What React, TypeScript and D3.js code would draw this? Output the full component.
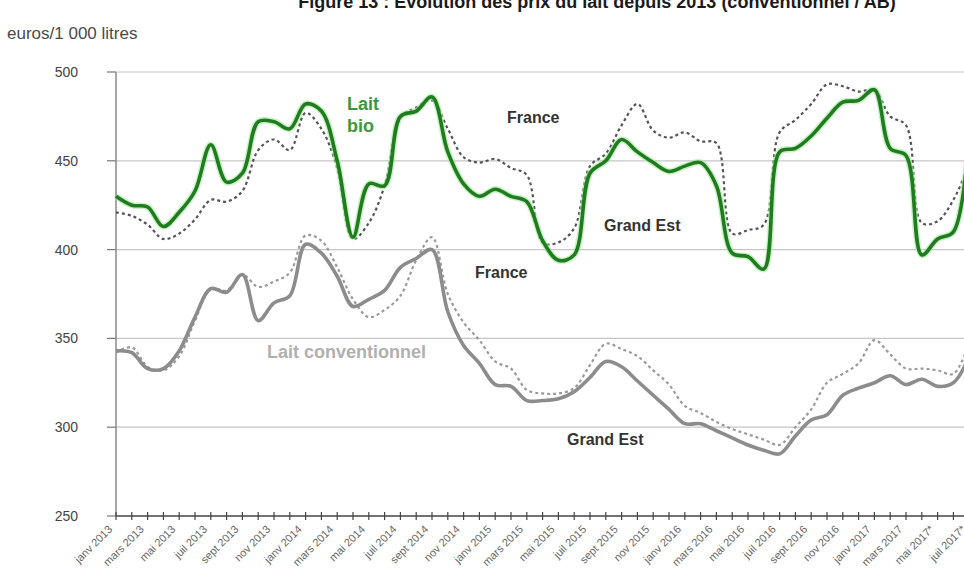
import React from "react";
import * as d3 from "d3";

const tickLabels = [
  "janv 2013", "mars 2013", "mai 2013", "juil 2013", "sept 2013", "nov 2013",
  "janv 2014", "mars 2014", "mai 2014", "juil 2014", "sept 2014", "nov 2014",
  "janv 2015", "mars 2015", "mai 2015", "juil 2015", "sept 2015", "nov 2015",
  "janv 2016", "mars 2016", "mai 2016", "juil 2016", "sept 2016", "nov 2016",
  "janv 2017", "mars 2017", "mai 2017*", "juil 2017*",
];

const yTicks = [250, 300, 350, 400, 450, 500];

// Monthly prices, janv 2013 .. juil 2017 (euros / 1 000 litres)
const bioGrandEst = [
  430, 425, 424, 413, 421, 433, 459, 438, 443, 472, 472, 468,
  482, 478, 450, 407, 437, 436, 475, 478, 486, 455, 437, 430,
  434, 430, 427, 405, 394, 397, 443, 450, 462, 455, 449, 444,
  447, 449, 436, 398, 396, 389, 455, 457, 464, 474, 483, 484,
  490, 457, 453, 397, 406, 410, 465,
];
const bioFrance = [
  421, 419, 414, 406, 409, 417, 428, 427, 433, 456, 462, 456,
  477, 468, 446, 406, 415, 436, 474, 480, 484, 468, 452, 449,
  451, 446, 442, 404, 404, 412, 447, 454, 470, 482, 467, 463,
  466, 461, 460, 409, 411, 414, 466, 473, 482, 493, 492, 489,
  490, 475, 470, 415, 416, 428, 448,
];
const convGrandEst = [
  343, 342, 333, 333, 343, 362, 378, 376, 386, 360, 370, 374,
  403, 398, 385, 368, 372, 377, 390, 395, 400, 365, 346, 336,
  324, 323, 315, 315, 316, 320, 328, 337, 334, 326, 318, 310,
  302, 302, 298, 294, 290, 287, 285, 295, 304, 307, 318, 322,
  325, 329, 324, 327, 323, 325, 340,
];
const convFrance = [
  342, 345, 334, 332, 340, 360, 378, 377, 386, 379, 382, 387,
  408, 405, 390, 372, 362, 366, 374, 394, 407, 375, 359, 349,
  337, 333, 321, 319, 319, 322, 335, 347, 344, 340, 332, 324,
  312, 308, 303, 299, 296, 293, 290, 300, 310, 325, 330, 336,
  349, 341, 333, 333, 332, 330, 348,
];

const W = 964;
const H = 573;
const X0 = 116;
const STEP = 15.8;
const N = bioGrandEst.length;
const font = "Arial, 'Liberation Sans', sans-serif";

export default function App() {
  const x = d3.scaleLinear().domain([0, N - 1]).range([X0, X0 + (N - 1) * STEP]);
  const y = d3.scaleLinear().domain([250, 500]).range([516, 72]);
  const line = d3
    .line<number>()
    .x((_, i) => x(i))
    .y((d) => y(d))
    .curve(d3.curveCatmullRom.alpha(0.5));

  const axisY = y(250);

  return (
    <svg
      width={W}
      height={H}
      style={{ position: "absolute", left: 0, top: 0, background: "#fff" }}
      fontFamily={font}
    >
      <rect x={0} y={0} width={W} height={H} fill="#fff" />
      {/* title (cut at top) */}
      <text x={597} y={8} textAnchor="middle" fontSize={18} fontWeight="bold" fill="#1a1a1a">
        Figure 13 : Évolution des prix du lait depuis 2013 (conventionnel / AB)
      </text>
      <text x={7} y={39} fontSize={17} fill="#4a4a4a">
        euros/1 000 litres
      </text>

      {/* gridlines + y ticks */}
      {yTicks.map((t) => (
        <g key={t}>
          {t !== 250 && (
            <line x1={X0} x2={W} y1={y(t)} y2={y(t)} stroke="#c6c6c6" strokeWidth={1.2} />
          )}
          <line x1={X0 - 9} x2={X0} y1={y(t)} y2={y(t)} stroke="#777" strokeWidth={1.2} />
          <text x={78} y={y(t) + 5} textAnchor="end" fontSize={14} fill="#444">
            {t}
          </text>
        </g>
      ))}
      <line x1={X0} x2={X0} y1={y(500)} y2={axisY} stroke="#888" strokeWidth={1.5} />

      {/* x axis */}
      <line x1={X0} x2={W} y1={axisY} y2={axisY} stroke="#444" strokeWidth={1.3} />
      {d3.range(N).map((i) => (
        <line key={i} x1={x(i)} x2={x(i)} y1={axisY - 4} y2={axisY + 4} stroke="#444" strokeWidth={1.2} />
      ))}
      {tickLabels.map((lab, k) => {
        const px = x(k * 2) - 3;
        const py = axisY + 14;
        return (
          <text
            key={lab}
            x={px}
            y={py}
            textAnchor="end"
            fontSize={11}
            fill="#666"
            transform={`rotate(-45 ${px} ${py})`}
          >
            {lab}
          </text>
        );
      })}

      {/* conventional */}
      <path d={line(convFrance) || ""} fill="none" stroke="#9a9a9a" strokeWidth={2.2} strokeDasharray="3 3" />
      <path d={line(convGrandEst) || ""} fill="none" stroke="#8c8c8c" strokeWidth={3.6} />

      {/* organic */}
      <path d={line(bioFrance) || ""} fill="none" stroke="#555" strokeWidth={2.2} strokeDasharray="3 3" />
      <path d={line(bioGrandEst) || ""} fill="none" stroke="#a8e8a0" strokeWidth={6.5} opacity={0.6} />
      <path d={line(bioGrandEst) || ""} fill="none" stroke="#1f7d1f" strokeWidth={3.6} />

      {/* annotations */}
      <text x={347} y={110} fontSize={18} fontWeight="bold" fill="#3a9a3a">Lait</text>
      <text x={347} y={132} fontSize={18} fontWeight="bold" fill="#3a9a3a">bio</text>
      <text x={507} y={123} fontSize={16} fontWeight="bold" fill="#333">France</text>
      <text x={604} y={231} fontSize={16} fontWeight="bold" fill="#333">Grand Est</text>
      <text x={475} y={278} fontSize={16} fontWeight="bold" fill="#333">France</text>
      <text x={567} y={445} fontSize={16} fontWeight="bold" fill="#333">Grand Est</text>
      <text x={267} y={358} fontSize={18} fontWeight="bold" fill="#b0b0b0">Lait conventionnel</text>
    </svg>
  );
}
